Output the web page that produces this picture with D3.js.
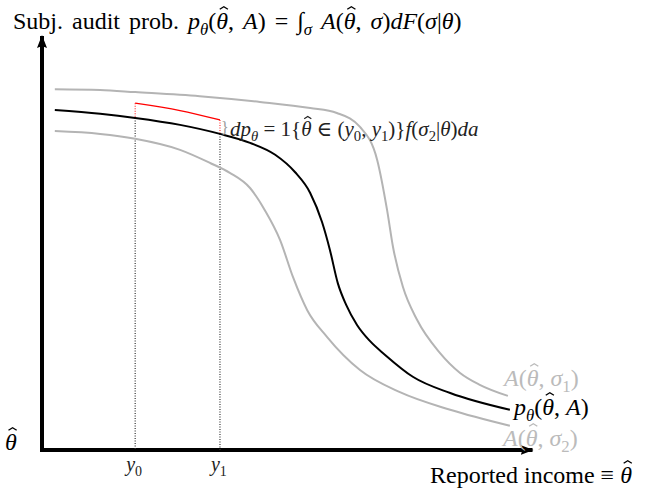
<!DOCTYPE html>
<html><head><meta charset="utf-8">
<script src="https://cdn.jsdelivr.net/npm/d3@7"></script>
<style>html,body{margin:0;padding:0;background:#fff;}svg{display:block;}</style>
</head><body>
<svg id="chart" width="656" height="493"></svg>
<script>
// ---- data (x: reported income 0..100, y: audit probability 0..1) ----
const sigma1X = [2.6, 11.8, 18.9, 32.0, 44.2, 54.4, 59.8, 64.5, 68.0, 70.0, 71.2, 73.2, 76.1, 80.7, 84.8, 88.8, 94.5];
const sigma1Y = [0.880, 0.878, 0.873, 0.863, 0.849, 0.834, 0.822, 0.788, 0.707, 0.585, 0.495, 0.398, 0.317, 0.237, 0.188, 0.159, 0.132];
const pX = [2.6, 11.8, 18.9, 28.0, 36.1, 42.2, 47.3, 51.3, 54.4, 56.8, 58.4, 60.0, 61.7, 63.9, 66.5, 69.6, 75.3, 82.8, 94.9];
const pY = [0.829, 0.820, 0.810, 0.793, 0.771, 0.749, 0.720, 0.678, 0.627, 0.556, 0.488, 0.407, 0.354, 0.305, 0.266, 0.232, 0.178, 0.139, 0.098];
const sigma2X = [2.6, 11.8, 18.9, 28.0, 34.1, 38.1, 42.2, 45.2, 48.3, 50.9, 53.8, 57.8, 64.5, 72.6, 82.8, 94.9];
const sigma2Y = [0.778, 0.771, 0.759, 0.732, 0.700, 0.676, 0.639, 0.585, 0.512, 0.422, 0.341, 0.276, 0.195, 0.141, 0.098, 0.059];
const redX = [18.9, 28.0, 36.1];
const redY = [0.846, 0.828, 0.805];
const intervalX = [18.9, 36.1];          // y0, y1
const intervalBaseY = [0.810, 0.771];    // p curve at y0, y1
const tickLabels = [["y", "0"], ["y", "1"]];

const svg = d3.select("#chart");
const x = d3.scaleLinear().domain([0, 100]).range([42, 535]);
const y = d3.scaleLinear().domain([0, 1]).range([450, 40]);
const FONT = "'Liberation Serif', 'DejaVu Serif', serif";

// arrow marker
const defs = svg.append("defs");
defs.append("marker").attr("id", "arr").attr("viewBox", "-12 -6 14 12")
  .attr("refX", 0).attr("refY", 0).attr("markerWidth", 14).attr("markerHeight", 12)
  .attr("markerUnits", "userSpaceOnUse").attr("orient", "auto")
  .append("path").attr("d", "M1,0 L-12,-5 Q-9,0 -12,5 Z").attr("fill", "#000");

// axes
svg.append("line").attr("x1", x(0)).attr("y1", y(0) + 2).attr("x2", x(0)).attr("y2", y(1.01))
  .attr("stroke", "#000").attr("stroke-width", 4).attr("marker-end", "url(#arr)");
svg.append("line").attr("x1", x(0) - 2).attr("y1", y(0)).attr("x2", x(99.5)).attr("y2", y(0))
  .attr("stroke", "#000").attr("stroke-width", 4).attr("marker-end", "url(#arr)");

const line = d3.line().x(d => x(d[0])).y(d => y(d[1])).curve(d3.curveMonotoneX);
const zip = (a, b) => a.map((v, i) => [v, b[i]]);

// dotted verticals
intervalX.forEach((xv, i) => {
  svg.append("line").attr("x1", x(xv)).attr("x2", x(xv)).attr("y1", y(intervalBaseY[i])).attr("y2", y(0))
    .attr("stroke", "#333").attr("stroke-width", 1.2).attr("stroke-dasharray", "1,1.5");
  svg.append("line").attr("x1", x(xv)).attr("x2", x(xv)).attr("y1", y(redY[i === 0 ? 0 : redY.length - 1])).attr("y2", y(intervalBaseY[i]))
    .attr("stroke", "#f33").attr("stroke-width", 1.2).attr("stroke-dasharray", "1,1.5");
});

svg.append("path").attr("d", line(zip(sigma1X, sigma1Y))).attr("fill", "none").attr("stroke", "#b4b4b4").attr("stroke-width", 2);
svg.append("path").attr("d", line(zip(sigma2X, sigma2Y))).attr("fill", "none").attr("stroke", "#b4b4b4").attr("stroke-width", 2);
svg.append("path").attr("d", line(zip(pX, pY))).attr("fill", "none").attr("stroke", "#000").attr("stroke-width", 2);
svg.append("path").attr("d", line(zip(redX, redY))).attr("fill", "none").attr("stroke", "#f00").attr("stroke-width", 1.3);

// math text helper: kinds r (roman), i (italic), h (italic with hat), s (italic sub), sr (roman sub)
function mathText(px, py, size, segs, color, wordSpacing) {
  const fill = color || "#000";
  const t = svg.append("text").attr("x", px).attr("y", py).attr("font-family", FONT)
    .attr("font-size", size).attr("fill", fill);
  if (wordSpacing) t.attr("word-spacing", wordSpacing);
  let inSub = false, idx = 0;
  const hats = [];
  const shift = size * 0.25;
  segs.forEach(([str, kind]) => {
    const sub = kind === "s" || kind === "sr";
    const ts = t.append("tspan").text(str);
    if (sub && !inSub) ts.attr("dy", shift);
    if (!sub && inSub) ts.attr("dy", -shift);
    inSub = sub;
    ts.attr("font-size", sub ? size * 0.7 : size)
      .attr("font-style", (kind === "i" || kind === "s" || kind === "h") ? "italic" : "normal");
    if (kind === "h") hats.push(idx);
    idx += str.length;
  });
  const node = t.node();
  hats.forEach(ci => {
    const a = node.getStartPositionOfChar(ci), b = node.getEndPositionOfChar(ci);
    const cx = (a.x + b.x) / 2 + size * 0.07, base = a.y;
    const w = size * 0.17, top = base - size * 0.93, bot = base - size * 0.82;
    svg.append("path").attr("d", `M${cx - w},${bot} L${cx},${top} L${cx + w},${bot}`)
      .attr("fill", "none").attr("stroke", fill).attr("stroke-width", size * 0.055);
  });
  return t;
}

// title
mathText(13, 29, 24, [["Subj. audit prob. ", "r"], ["p", "i"], ["θ", "s"], ["(", "r"], ["θ", "h"], [", ", "r"], ["A", "i"],
  [") = ", "r"], ["∫", "r"], ["σ", "s"], [" A", "i"], ["(", "r"], ["θ", "h"], [", ", "r"], ["σ", "i"], [")", "r"],
  ["dF", "i"], ["(", "r"], ["σ", "i"], ["|", "r"], ["θ", "i"], [")", "r"]], "#000", 3);

// dp annotation
mathText(x(intervalX[1]) + 1, 133, 16, [["}", "r"]], "#999");
mathText(x(intervalX[1]) + 10, 136, 21, [["dp", "i"], ["θ", "s"], [" = 1{", "r"], ["θ", "h"], [" ∈ (", "r"], ["y", "i"], ["0", "sr"],
  [", ", "r"], ["y", "i"], ["1", "sr"], [")}", "r"], ["f", "i"], ["(", "r"], ["σ", "i"], ["2", "sr"], ["|", "r"], ["θ", "i"], [")", "r"], ["da", "i"]], "#222");

// curve labels
mathText(504, 386, 24, [["A", "i"], ["(", "r"], ["θ", "h"], [", ", "r"], ["σ", "i"], ["1", "sr"], [")", "r"]], "#bbb");
mathText(514, 415, 24, [["p", "i"], ["θ", "s"], ["(", "r"], ["θ", "h"], [", ", "r"], ["A", "i"], [")", "r"]], "#000");
mathText(503, 446, 24, [["A", "i"], ["(", "r"], ["θ", "h"], [", ", "r"], ["σ", "i"], ["2", "sr"], [")", "r"]], "#bbb");

// axis labels
mathText(5, 450, 24, [["θ", "h"]]);
mathText(430, 483, 24, [["Reported income ≡ ", "r"], ["θ", "h"]]);
intervalX.forEach((xv, i) => {
  mathText(x(xv) - 9, 471, 20, [[tickLabels[i][0], "i"], [tickLabels[i][1], "sr"]], "#222");
});
</script>
</body></html>
